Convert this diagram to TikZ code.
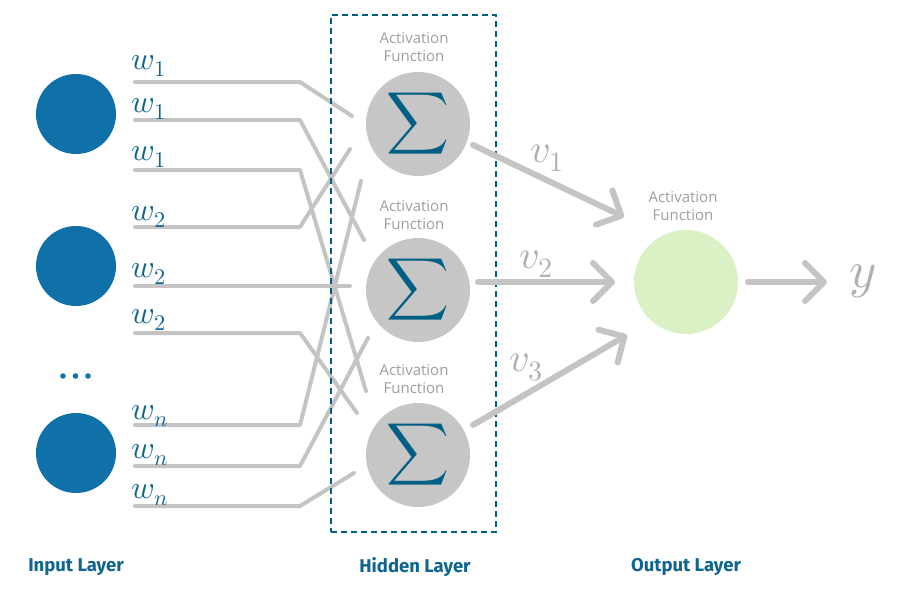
\documentclass[tikz,border=0pt]{standalone}
\usepackage{graphicx}
\usepackage{fontspec}
\usepackage{unicode-math}
\setmainfont{Open Sans}
\setmathfont{Latin Modern Math}
\newfontfamily\labfont{Fira Sans}
\usetikzlibrary{arrows.meta}
\definecolor{inblue}{HTML}{1070A8}
\definecolor{deepblue}{HTML}{0E6590}
\definecolor{sigblue}{HTML}{005F85}
\definecolor{boxblue}{HTML}{005E80}
\definecolor{wiregray}{HTML}{C4C4C4}
\definecolor{neurgray}{HTML}{C6C6C6}
\definecolor{txtgray}{HTML}{9E9E9E}
\definecolor{vgray}{HTML}{B0B0B0}
\definecolor{outgreen}{HTML}{DAF1C5}
\newcommand\sigmasym{\resizebox*{!}{61pt}{$\displaystyle\sum$}}
\begin{document}
\begin{tikzpicture}[x=1pt,y=-1pt,
  inneuron/.style={circle, fill=inblue, minimum size=80pt, inner sep=0pt},
  hneuron/.style={circle, fill=neurgray, minimum size=104pt, inner sep=0pt, text=sigblue},
  oneuron/.style={circle, fill=outgreen, minimum size=104pt, inner sep=0pt},
  actlabel/.style={align=center, text=txtgray, font=\fontsize{15}{18}\selectfont, inner sep=0pt},
  wire/.style={draw=wiregray, line width=4pt, line cap=round, line join=round},
  conn/.style={draw=wiregray, line width=6pt, line cap=round, -{Straight Barb[length=19pt, width=38pt, round]}},
  wlab/.style={anchor=base west, inner sep=0pt, text=deepblue, font=\fontsize{32}{32}\selectfont},
  vlab/.style={anchor=base west, inner sep=0pt, text=vgray, font=\fontsize{40}{40}\selectfont},
  layerlab/.style={text=deepblue, font=\labfont\bfseries\fontsize{18.5}{18.5}\selectfont, inner sep=0pt},
  dotstyle/.style={circle, fill=inblue, minimum size=5.6pt, inner sep=0pt},
  boxstyle/.style={draw=boxblue, line width=2pt, dash pattern=on 6pt off 4pt, minimum width=165pt, minimum height=517pt, inner sep=0pt}
]
\useasboundingbox (0,0) rectangle (904,592);

% wires: start, bend, end
\foreach \i/\y/\ex/\ey in {1/82/352/116, 2/120/364/240, 3/170/366/391, 4/227/350/149, 5/286/350/286, 6/333/357/413, 7/425/361/181, 8/466/368/338, 9/506/354/473}{
  \coordinate (s\i) at (135,\y);
  \coordinate (k\i) at (300,\y);
  \coordinate (e\i) at (\ex,\ey);
  \draw[wire] (s\i) -- (k\i) -- (e\i);
}

% hidden layer box
\node[boxstyle] (hbox) at (413.5,273.5) {};

% input layer
\node[inneuron] (in1) at (76,114) {};
\node[inneuron] (in2) at (76,266) {};
\node[inneuron] (in3) at (76,453) {};
\node[dotstyle] (d1) at (63,376) {};
\node[dotstyle] (d2) at (75.5,376) {};
\node[dotstyle] (d3) at (88,376) {};

% hidden layer
\node[hneuron] (h1) at (418,124) {\sigmasym};
\node[hneuron] (h2) at (418,290) {\sigmasym};
\node[hneuron] (h3) at (418,455) {\sigmasym};
\node[actlabel] (a1) at (414,47) {Activation\\Function};
\node[actlabel] (a2) at (414,215) {Activation\\Function};
\node[actlabel] (a3) at (414,379) {Activation\\Function};

% output
\node[oneuron] (o) at (686,282) {};
\node[actlabel] (ao) at (683,206) {Activation\\Function};

% weight labels
\node[wlab] (lw1) at (131,69) {$w_1$};
\node[wlab] (lw2) at (131,112) {$w_1$};
\node[wlab] (lw3) at (131,160) {$w_1$};
\node[wlab] (lw4) at (131,220) {$w_2$};
\node[wlab] (lw5) at (131,277) {$w_2$};
\node[wlab] (lw6) at (131,323) {$w_2$};
\node[wlab] (lw7) at (131,419) {$w_n$};
\node[wlab] (lw8) at (131,458) {$w_n$};
\node[wlab] (lw9) at (131,498) {$w_n$};

% hidden to output
\coordinate (v1s) at (473,145);
\coordinate (v1t) at (624,217);
\coordinate (v2s) at (478,282);
\coordinate (v2t) at (615,282);
\coordinate (v3s) at (473,425);
\coordinate (v3t) at (627,335);
\coordinate (ys) at (748,282);
\coordinate (yt) at (827,282);
\draw[conn] (v1s) -- (v1t);
\draw[conn] (v2s) -- (v2t);
\draw[conn] (v3s) -- (v3t);
\draw[conn] (ys) -- (yt);

\node[vlab] (lv1) at (530,162) {$v_1$};
\node[vlab] (lv2) at (519,268) {$v_2$};
\node[vlab] (lv3) at (509,371) {$v_3$};
\node[anchor=base west, inner sep=0pt, text=vgray, font=\fontsize{52}{52}\selectfont] (ylab) at (849,287) {$y$};

% layer labels
\node[layerlab] (L1) at (76,567) {Input Layer};
\node[layerlab] (L2) at (415,567) {Hidden Layer};
\node[layerlab] (L3) at (686,567) {Output Layer};
\end{tikzpicture}
\end{document}
